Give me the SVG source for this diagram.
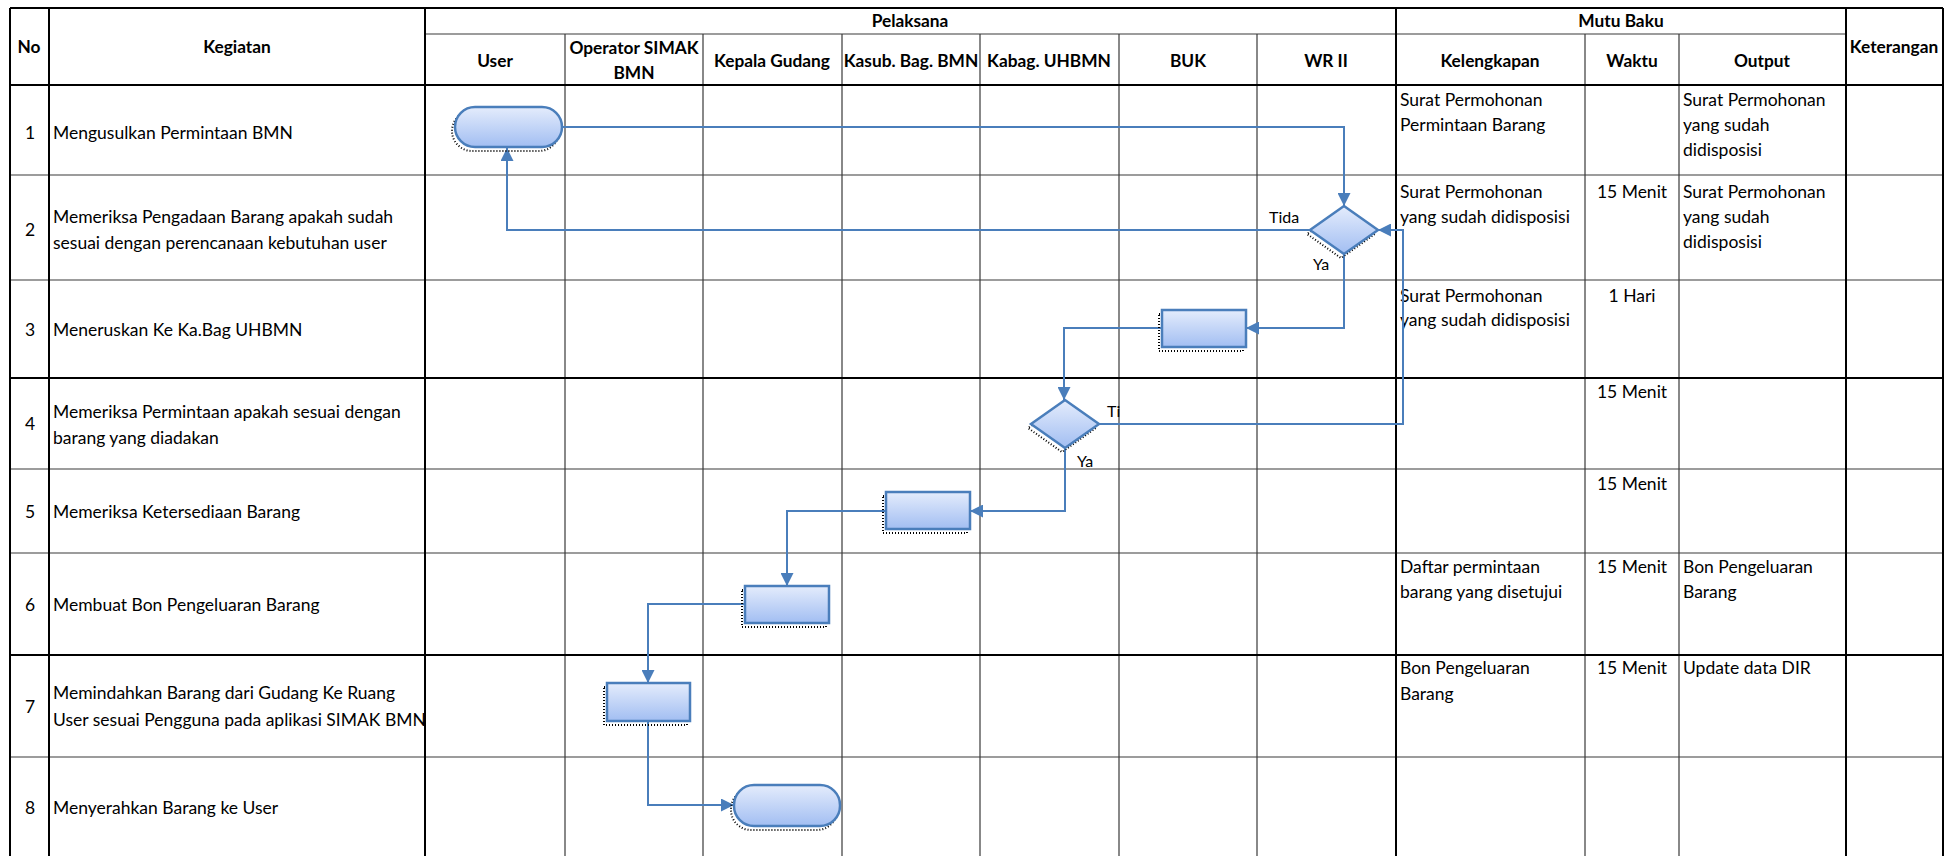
<svg xmlns="http://www.w3.org/2000/svg" width="1960" height="856" viewBox="0 0 1960 856">
<style>
.bg{fill:#fff}
.thk{stroke:#000;stroke-width:2;fill:none}
.thn{stroke:#3a3a3a;stroke-width:1.2;fill:none}
.h{font-family:Lato,"Liberation Sans",sans-serif;font-weight:bold;font-size:17.3px;fill:#000;text-anchor:middle}
.t{font-family:Lato,"Liberation Sans",sans-serif;font-size:17.5px;fill:#000}
.c{text-anchor:middle}
.lbl{font-family:Lato,"Liberation Sans",sans-serif;font-size:16px;fill:#000}
.shape{fill:url(#g);stroke:#4A7EBB;stroke-width:2.5}
.shadow{fill:none;stroke:#000;stroke-width:2;stroke-dasharray:1 2}
.con{fill:none;stroke:#4A7EBB;stroke-width:2;marker-end:url(#arr)}
</style>
<defs>
<linearGradient id="g" x1="0" y1="0" x2="0" y2="1">
<stop offset="0" stop-color="#E4ECFC"/>
<stop offset="1" stop-color="#A2BEF2"/>
</linearGradient>
<marker id="arr" viewBox="0 0 10 10" refX="10" refY="5" markerWidth="13" markerHeight="13" markerUnits="userSpaceOnUse" orient="auto">
<path d="M0,0 L10,5 L0,10 z" fill="#4A7EBB"/>
</marker>
</defs>
<rect class="bg" x="0" y="0" width="1960" height="856"/>

<g id="grid">
<path class="thn" d="M10,175H1943M10,280H1943M10,469H1943M10,553H1943M10,757H1943"/>
<path class="thn" d="M425,34H1846"/>
<path class="thn" d="M565,34V856M703,34V856M842,34V856M980,34V856M1119,34V856M1257,34V856M1585,34V856M1679,34V856"/>
<path class="thk" d="M10,8H1943M10,85H1943M10,378H1943M10,655H1943"/>
<path class="thk" d="M10,8V856M49,8V856M425,8V856M1396,8V856M1846,8V856M1943,8V856"/>
</g>

<g id="header">
<text class="h" x="29" y="53">No</text>
<text class="h" x="237" y="53">Kegiatan</text>
<text class="h" x="910" y="27">Pelaksana</text>
<text class="h" x="1621" y="27">Mutu Baku</text>
<text class="h" x="1894" y="53">Keterangan</text>
<text class="h" x="495" y="67">User</text>
<text class="h" x="634" y="54">Operator SIMAK</text>
<text class="h" x="634" y="79">BMN</text>
<text class="h" x="772" y="67">Kepala Gudang</text>
<text class="h" x="911" y="67">Kasub. Bag. BMN</text>
<text class="h" x="1049" y="67">Kabag. UHBMN</text>
<text class="h" x="1188" y="67">BUK</text>
<text class="h" x="1326" y="67">WR II</text>
<text class="h" x="1490" y="67">Kelengkapan</text>
<text class="h" x="1632" y="67">Waktu</text>
<text class="h" x="1762" y="67">Output</text>
</g>

<g id="activities">
<text class="t c" x="30" y="139">1</text>
<text class="t" x="53" y="139">Mengusulkan Permintaan BMN</text>
<text class="t c" x="30" y="236">2</text>
<text class="t" x="53" y="223">Memeriksa Pengadaan Barang apakah sudah</text>
<text class="t" x="53" y="249">sesuai dengan perencanaan kebutuhan user</text>
<text class="t c" x="30" y="336">3</text>
<text class="t" x="53" y="336">Meneruskan Ke Ka.Bag UHBMN</text>
<text class="t c" x="30" y="430">4</text>
<text class="t" x="53" y="418">Memeriksa Permintaan apakah sesuai dengan</text>
<text class="t" x="53" y="444">barang yang diadakan</text>
<text class="t c" x="30" y="518">5</text>
<text class="t" x="53" y="518">Memeriksa Ketersediaan Barang</text>
<text class="t c" x="30" y="611">6</text>
<text class="t" x="53" y="611">Membuat Bon Pengeluaran Barang</text>
<text class="t c" x="30" y="713">7</text>
<text class="t" x="53" y="699">Memindahkan Barang dari Gudang Ke Ruang</text>
<text class="t" x="53" y="726">User sesuai Pengguna pada aplikasi SIMAK BMN</text>
<text class="t c" x="30" y="814">8</text>
<text class="t" x="53" y="814">Menyerahkan Barang ke User</text>
</g>

<g id="mutu">
<text class="t" x="1400" y="106">Surat Permohonan</text>
<text class="t" x="1400" y="131">Permintaan Barang</text>
<text class="t" x="1683" y="106">Surat Permohonan</text>
<text class="t" x="1683" y="131">yang sudah</text>
<text class="t" x="1683" y="156">didisposisi</text>

<text class="t" x="1400" y="198">Surat Permohonan</text>
<text class="t" x="1400" y="223">yang sudah didisposisi</text>
<text class="t c" x="1632" y="198">15 Menit</text>
<text class="t" x="1683" y="198">Surat Permohonan</text>
<text class="t" x="1683" y="223">yang sudah</text>
<text class="t" x="1683" y="248">didisposisi</text>

<text class="t" x="1400" y="302">Surat Permohonan</text>
<text class="t" x="1400" y="326">yang sudah didisposisi</text>
<text class="t c" x="1632" y="302">1 Hari</text>

<text class="t c" x="1632" y="398">15 Menit</text>
<text class="t c" x="1632" y="490">15 Menit</text>

<text class="t" x="1400" y="573">Daftar permintaan</text>
<text class="t" x="1400" y="598">barang yang disetujui</text>
<text class="t c" x="1632" y="573">15 Menit</text>
<text class="t" x="1683" y="573">Bon Pengeluaran</text>
<text class="t" x="1683" y="598">Barang</text>

<text class="t" x="1400" y="674">Bon Pengeluaran</text>
<text class="t" x="1400" y="700">Barang</text>
<text class="t c" x="1632" y="674">15 Menit</text>
<text class="t" x="1683" y="674">Update data DIR</text>
</g>

<g id="connectors">
<path class="con" d="M562,127H1344V206"/>
<path class="con" d="M1310,230H507V148"/>
<path class="con" d="M1344,254V328H1246"/>
<path class="con" d="M1162,328H1064V400"/>
<path class="con" d="M1099,424H1403V230H1378"/>
<path class="con" d="M1065,448V511H970"/>
<path class="con" d="M886,511H787V586"/>
<path class="con" d="M745,604H648V683"/>
<path class="con" d="M648,721V805H734"/>
<text class="lbl" x="1269" y="223">Tida</text>
<text class="lbl" x="1313" y="270">Ya</text>
<text class="lbl" x="1107" y="417">Ti</text>
<text class="lbl" x="1077" y="467">Ya</text>
</g>

<g id="n1">
<rect class="shadow" x="452" y="111" width="107" height="40" rx="20"/>
<rect class="shape" x="455" y="107" width="107" height="40" rx="20"/>
</g>
<g id="n2">
<polygon class="shadow" points="1341,210 1375,234 1341,258 1307,234"/>
<polygon class="shape" points="1344,206 1378,230 1344,254 1310,230"/>
</g>
<g id="n3">
<rect class="shadow" x="1159" y="314" width="84" height="37"/>
<rect class="shape" x="1162" y="310" width="84" height="37"/>
</g>
<g id="n4">
<polygon class="shadow" points="1062,404 1096,428 1062,452 1028,428"/>
<polygon class="shape" points="1065,400 1099,424 1065,448 1031,424"/>
</g>
<g id="n5">
<rect class="shadow" x="883" y="496" width="84" height="37"/>
<rect class="shape" x="886" y="492" width="84" height="37"/>
</g>
<g id="n6">
<rect class="shadow" x="742" y="590" width="84" height="37"/>
<rect class="shape" x="745" y="586" width="84" height="37"/>
</g>
<g id="n7">
<rect class="shadow" x="604" y="687" width="83" height="38"/>
<rect class="shape" x="607" y="683" width="83" height="38"/>
</g>
<g id="n8">
<rect class="shadow" x="731" y="789" width="106" height="41" rx="20"/>
<rect class="shape" x="734" y="785" width="106" height="41" rx="20"/>
</g>
</svg>
